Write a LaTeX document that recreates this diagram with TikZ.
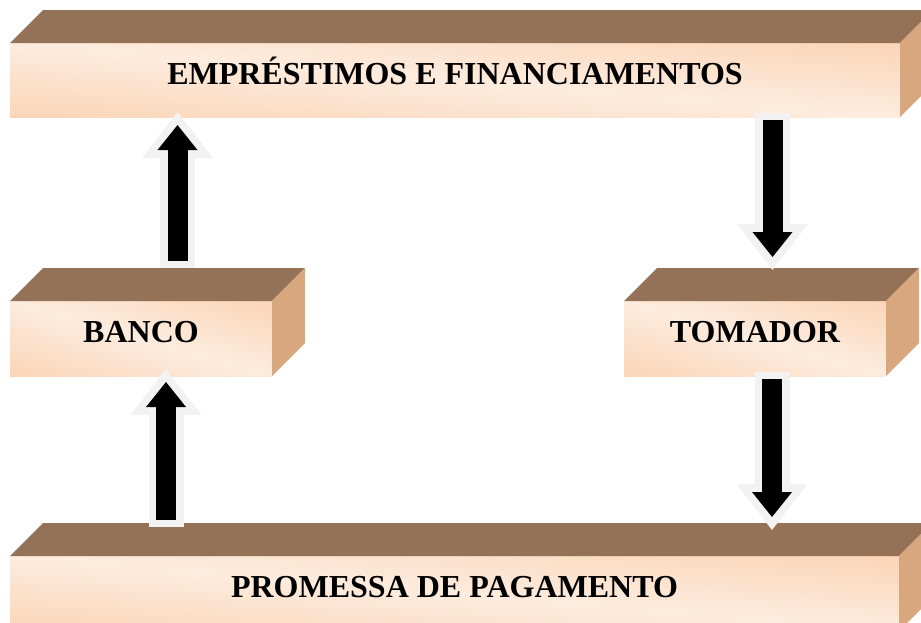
\documentclass[tikz,border=0pt]{standalone}
\usepackage{fontspec}
\setmainfont{Liberation Serif}
\usepackage{tikz}
\usetikzlibrary{positioning,calc,arrows.meta}
\definecolor{topbrown}{RGB}{147,114,87}
\definecolor{sidetan}{RGB}{217,167,125}
\definecolor{arrowrim}{RGB}{242,242,242}
% light band along the top-left to bottom-right diagonal, darker peach in the two other corners
\pgfdeclarefunctionalshading{peachdiag}{\pgfpointorigin}{\pgfpoint{100bp}{100bp}}{}{
  add 100 div 1 sub abs
  dup dup -0.019 mul 0.992 add
  exch -0.180 mul 0.925 add
  3 2 roll -0.300 mul 0.870 add
}

\begin{document}
\begin{tikzpicture}[x=1pt,y=-1pt,
front/.style={rectangle,inner sep=0pt,outer sep=0pt,shading=peachdiag,
    font=\fontsize{32}{32}\selectfont\bfseries,text height=21.2pt,text depth=12.7pt},
topface/.style={fill=topbrown},
sideface/.style={fill=sidetan},
fatarrow/.style={draw=arrowrim,line width=35pt,
    -{Triangle[width=71pt,length=46pt,line width=0pt]},
    postaction={draw=black,line width=20pt,shorten >=13pt,shorten <=7pt,
    -{Triangle[width=40pt,length=25pt,line width=0pt]}}}]
\useasboundingbox (0,0) rectangle (921,622);
\clip (0,0) rectangle (921,622);

\node (emp) [front,minimum width=890pt,minimum height=74pt] at (455,80) {EMPRÉSTIMOS E FINANCIAMENTOS};
\node (banco) [front,minimum width=262pt,minimum height=75pt] at (141,338.5) {BANCO};
\node (tomador) [front,minimum width=262pt,minimum height=75pt] at (755,338.5) {TOMADOR};
\node (promessa) [front,minimum width=889pt,minimum height=75pt] at (454.5,593.5) {PROMESSA DE PAGAMENTO};

% top and side faces of the blocks
\foreach \blk in {emp,banco,tomador,promessa} {
  \fill[topface] (\blk.north west) -- ([xshift=33pt,yshift=33pt]\blk.north west)
    -- ([xshift=33pt,yshift=33pt]\blk.north east) -- (\blk.north east) -- cycle;
  \fill[sideface] (\blk.north east) -- ([xshift=33pt,yshift=33pt]\blk.north east)
    -- ([xshift=33pt,yshift=33pt]\blk.south east) -- (\blk.south east) -- cycle;
}

\draw[fatarrow] ($(banco.north)+(36.5,-33)$) -- ($(banco.north |- emp.south)+(36.5,-5)$);
\draw[fatarrow] ($(banco.south |- promessa.north)+(25,-29)$) -- ($(banco.south)+(25,-7)$);
\draw[fatarrow] ($(tomador.north |- emp.south)+(17.5,-4)$) -- ($(tomador.north)+(17.5,-31)$);
\draw[fatarrow] ($(tomador.south)+(17,-4)$) -- ($(tomador.south |- promessa.north)+(17,-26)$);
\end{tikzpicture}
\end{document}
